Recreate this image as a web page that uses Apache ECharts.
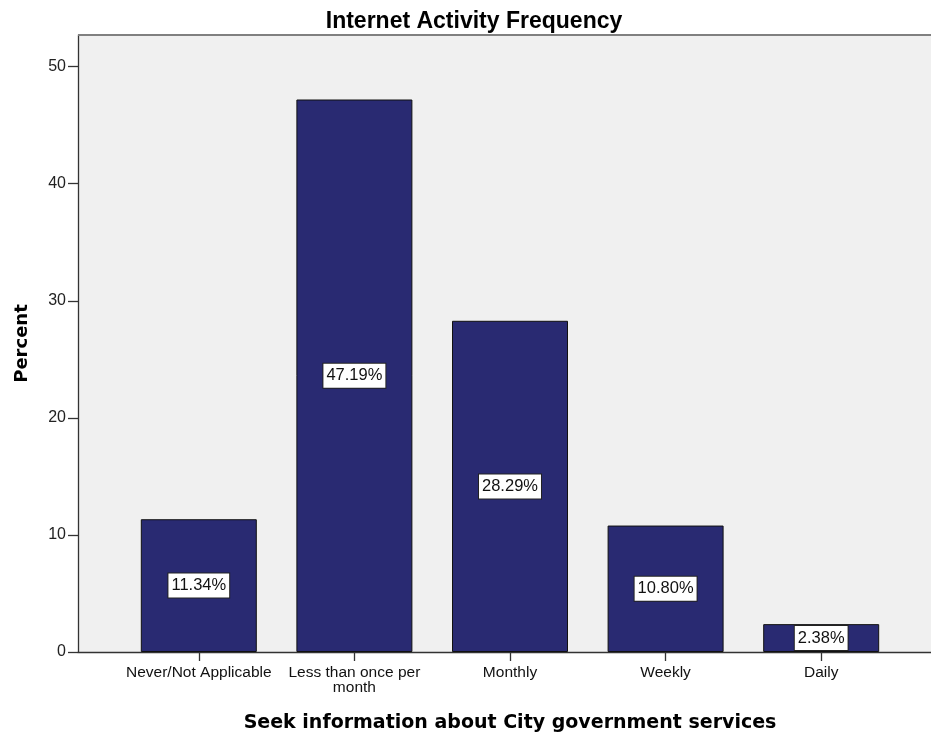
<!DOCTYPE html>
<html>
<head>
<meta charset="utf-8">
<script src="https://cdn.jsdelivr.net/npm/echarts@6/dist/echarts.min.js"></script>
<style>
  html, body { margin: 0; padding: 0; background: #ffffff; }
  #chart { width: 931px; height: 742px; }
</style>
</head>
<body>
<div id="chart"></div>
<script>
// Survey response categories and their shares (percent)
const categories = ['Never/Not Applicable', 'Less than once per\nmonth', 'Monthly', 'Weekly', 'Daily'];
const percents = [11.34, 47.19, 28.29, 10.80, 2.38];
const yTicks = [0, 10, 20, 30, 40, 50];

const Y_MAX = 52.7;
const TOP = 35, BOTTOM = 90;
const SANS = 'Liberation Sans, Arial, sans-serif';

const chart = echarts.init(document.getElementById('chart'));

chart.setOption({
  animation: false,
  title: {
    text: 'Internet Activity Frequency',
    left: 469, top: 5,
    textAlign: 'center',
    textStyle: { fontFamily: SANS, fontSize: 23, fontWeight: 'bold', color: '#000' }
  },
  grid: [
    // frame with the background and the value axis
    { left: 78, right: 0, top: TOP, bottom: BOTTOM, show: true, backgroundColor: '#f0f0f0', borderWidth: 0 },
    // inner band that carries the categories
    { left: 121, right: 32, top: TOP, bottom: BOTTOM }
  ],
  xAxis: [
    {
      gridIndex: 0, type: 'value', min: 0, max: 1,
      axisLine: { show: true, lineStyle: { color: '#333', width: 1.3 } },
      axisTick: { show: false }, axisLabel: { show: false }, splitLine: { show: false }
    },
    {
      gridIndex: 1, type: 'category', data: categories,
      axisLine: { show: false },
      axisTick: { show: true, alignWithLabel: true, length: 9, lineStyle: { color: '#333', width: 1.3 } },
      axisLabel: {
        interval: 0, margin: 13, color: '#111', fontSize: 15.5, lineHeight: 15,
        fontFamily: SANS
      },
      name: 'Seek information about City government services',
      nameLocation: 'middle', nameGap: 62,
      nameTextStyle: { fontFamily: 'DejaVu Sans, sans-serif', fontSize: 19, fontWeight: 'bold', color: '#000' }
    }
  ],
  yAxis: [
    {
      gridIndex: 0, type: 'value', min: 0, max: Y_MAX,
      axisLine: { show: true, lineStyle: { color: '#333', width: 1.3 } },
      axisTick: { show: true, length: 10, customValues: yTicks, lineStyle: { color: '#333', width: 1.3 } },
      axisLabel: {
        color: '#222', fontSize: 16, margin: 12, customValues: yTicks,
        fontFamily: SANS
      },
      splitLine: { show: false },
      name: 'Percent', nameLocation: 'middle', nameGap: 47, nameRotate: 90,
      nameTextStyle: { fontFamily: 'DejaVu Sans, sans-serif', fontSize: 18, fontWeight: 'bold', color: '#000' }
    },
    {
      gridIndex: 1, type: 'value', min: 0, max: Y_MAX, show: false
    }
  ],
  series: [
    // top border of the frame
    {
      type: 'line', xAxisIndex: 0, yAxisIndex: 0, silent: true,
      data: [], markLine: {
        silent: true, symbol: 'none', label: { show: false },
        lineStyle: { color: '#808080', width: 2, type: 'solid' },
        data: [{ yAxis: Y_MAX }]
      }
    },
    {
      type: 'bar', xAxisIndex: 1, yAxisIndex: 1,
      data: percents, barWidth: 116,
      itemStyle: { color: '#292a72', borderColor: '#111', borderWidth: 1 },
      label: {
        show: true, position: 'inside',
        formatter: p => p.value.toFixed(2) + '%',
        color: '#111', fontSize: 16.5, fontFamily: SANS,
        backgroundColor: '#ffffff', borderColor: '#222', borderWidth: 1,
        padding: [4, 3, 3, 3]
      }
    }
  ]
});
</script>
</body>
</html>
